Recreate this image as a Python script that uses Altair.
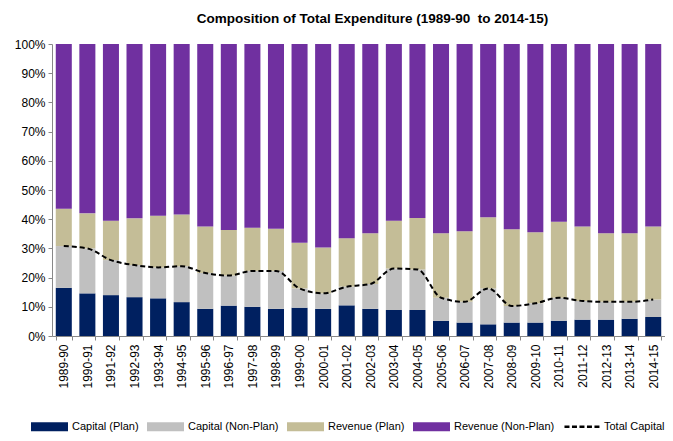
import altair as alt
import pandas as pd

years = ["1989-90", "1990-91", "1991-92", "1992-93", "1993-94", "1994-95", "1995-96",
         "1996-97", "1997-98", "1998-99", "1999-00", "2000-01", "2001-02", "2002-03",
         "2003-04", "2004-05", "2005-06", "2006-07", "2007-08", "2008-09", "2009-10",
         "2010-11", "2011-12", "2012-13", "2013-14", "2014-15"]

capital_plan = [16.5, 14.6, 14.0, 13.3, 12.9, 11.6, 9.3, 10.4, 10.0, 9.3, 9.7, 9.3, 10.5, 9.3,
                8.9, 8.9, 5.2, 4.6, 4.0, 4.6, 4.6, 5.2, 5.6, 5.6, 5.9, 6.5]
capital_nonplan = [14.3, 15.4, 12.0, 11.0, 10.6, 12.3, 12.3, 10.3, 12.3, 13.0, 6.6, 5.3, 6.4, 8.5,
                   14.2, 13.9, 7.9, 7.1, 12.3, 5.7, 6.6, 7.9, 6.4, 6.1, 5.8, 6.0]
revenue_plan = [12.8, 12.0, 13.5, 16.0, 17.7, 17.7, 15.9, 15.6, 14.8, 14.4, 15.6, 15.7, 16.6, 17.4,
                16.4, 17.6, 22.1, 24.2, 24.4, 26.3, 24.3, 26.0, 25.5, 23.5, 23.5, 25.0]
revenue_nonplan = [56.4, 58.0, 60.5, 59.7, 58.8, 58.4, 62.5, 63.7, 62.9, 63.3, 68.1, 69.7, 66.5, 64.8,
                   60.5, 59.6, 64.8, 64.1, 59.3, 63.4, 64.5, 60.9, 62.5, 64.8, 64.8, 62.5]
total_capital = [30.8, 30.0, 26.0, 24.3, 23.5, 23.9, 21.6, 20.7, 22.3, 22.3, 16.3, 14.6, 16.9, 17.8,
                 23.1, 22.8, 13.1, 11.7, 16.3, 10.3, 11.2, 13.1, 12.0, 11.7, 11.7, 12.5]

series_names = ["Capital (Plan)", "Capital (Non-Plan)", "Revenue (Plan)", "Revenue (Non-Plan)"]
series_colors = ["#002060", "#c0c0c0", "#c4bd97", "#7030a0"]
series_values = [capital_plan, capital_nonplan, revenue_plan, revenue_nonplan]
line_name = "Total Capital"

legend_names = series_names + [line_name]
legend_colors = series_colors + ["#000000"]

# legend symbol shapes (unit box -1..1): wide filled rectangle, and a dashed stroke
RECT = "M-1,-0.243H1V0.243H-1Z"
DASH = "".join(
    f"M{x:.3f},-0.0675H{x + 0.27:.3f}V0.0675H{x:.3f}Z"
    for x in [-0.92, -0.515, -0.11, 0.295, 0.70]
)
legend_shapes = [RECT, RECT, RECT, RECT, DASH]

rows = []
for si, (name, vals) in enumerate(zip(series_names, series_values)):
    for y, v in zip(years, vals):
        rows.append({"year": y, "series": name, "order": si, "value": v / 100.0})
bars_df = pd.DataFrame(rows)

line_df = pd.DataFrame({"year": years, "value": [v / 100.0 for v in total_capital]})
legend_df = pd.DataFrame({"series": legend_names})

FONT = "Liberation Sans, Arial, sans-serif"

color_scale = alt.Scale(domain=legend_names, range=legend_colors)
shape_scale = alt.Scale(domain=legend_names, range=legend_shapes)
legend_def = alt.Legend(title=None, orient="none", direction="horizontal",
                        legendX=-21, legendY=364, padding=0,
                        symbolSize=1369, symbolStrokeWidth=0, symbolOpacity=1,
                        labelFontSize=11, columnPadding=8, labelOffset=4)

x_axis = alt.Axis(labelAngle=-90, tickBand="extent", labelFontSize=12,
                  labelColor="#000000", domainColor="#888888", tickColor="#888888",
                  tickSize=4, labelPadding=4, labelOverlap=False)
y_axis = alt.Axis(format="%", values=[i / 10 for i in range(11)], grid=False,
                  labelFontSize=12, labelColor="#000000", domainColor="#888888",
                  tickColor="#888888", tickSize=4, labelPadding=3, labelOverlap=False)
x_scale = alt.Scale(paddingInner=0.32, paddingOuter=0.16)
y_scale = alt.Scale(domain=[0, 1], nice=False)

bars = alt.Chart(bars_df).mark_bar().encode(
    x=alt.X("year:N", sort=years, title=None, scale=x_scale, axis=x_axis),
    y=alt.Y("value:Q", stack="zero", title=None, scale=y_scale, axis=y_axis),
    color=alt.Color("series:N", scale=color_scale, legend=legend_def),
    order=alt.Order("order:Q"),
)

line = alt.Chart(line_df).mark_line(color="#000000", strokeWidth=2, strokeDash=[5, 3],
                                    interpolate="monotone").encode(
    x=alt.X("year:N", sort=years, title=None, scale=x_scale, axis=x_axis),
    y=alt.Y("value:Q", title=None, scale=y_scale, axis=y_axis),
)

legend_layer = alt.Chart(legend_df).mark_point(filled=True, opacity=1).encode(
    color=alt.Color("series:N", scale=color_scale, legend=legend_def),
    shape=alt.Shape("series:N", scale=shape_scale, legend=legend_def),
).transform_filter("false")

chart = alt.layer(bars, line, legend_layer).properties(
    width=613, height=292,
    autosize=alt.AutoSizeParams(type="none"),
    padding={"left": 44, "top": 36, "right": 0, "bottom": 97},
    title=alt.TitleParams("Composition of Total Expenditure (1989-90\u00a0 to 2014-15)",
                          fontSize=13.5, fontWeight="bold", font=FONT, offset=13,
                          dx=14, color="#000000"),
).configure(font=FONT).configure_view(stroke=None).configure_legend(
    labelFont=FONT, labelColor="#000000"
)

chart.save("out.html", embed_options={"renderer": "svg", "actions": False})
